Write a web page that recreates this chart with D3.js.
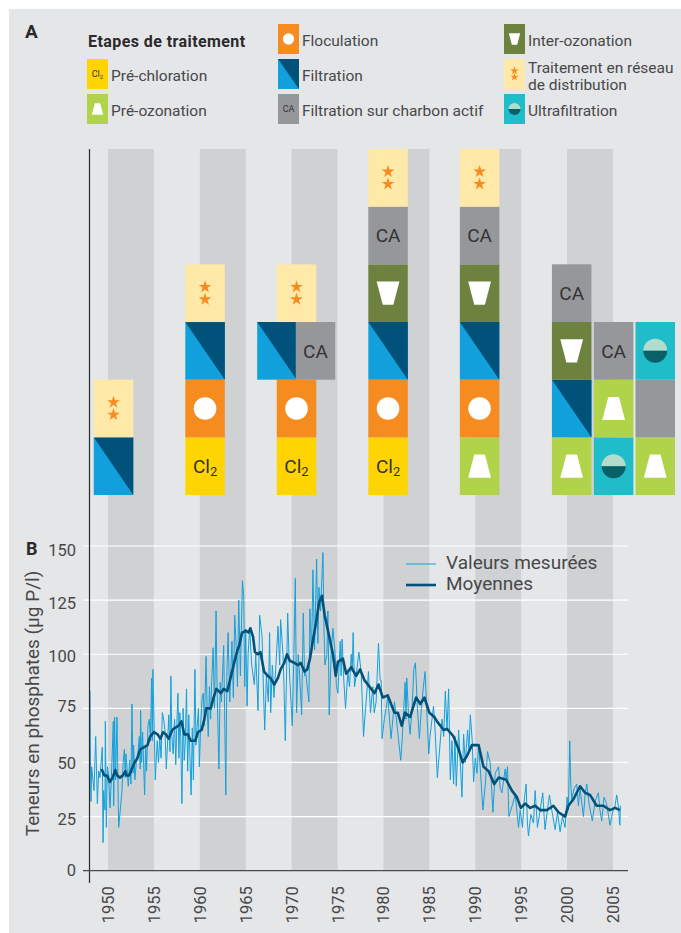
<!DOCTYPE html>
<html>
<head>
<meta charset="utf-8">
<script src="https://cdn.jsdelivr.net/npm/d3@7"></script>
<style>
	html, body { margin: 0; padding: 0; background: #fff; }
	svg { display: block; }
	text { font-family: Roboto, "Liberation Sans", sans-serif; fill: #47484a; }
	.legend-label { font-size: 15.5px; }
	.axis text { font-size: 16.5px; }
	.axis .domain { display: none; }
	.axis line { display: none; }
</style>
</head>
<body>
<script>
var bandStarts = [1950, 1960, 1970, 1980, 1990, 2000];
var yTicks = [0, 25, 50, 75, 100, 125, 150];
var xTicks = [1950, 1955, 1960, 1965, 1970, 1975, 1980, 1985, 1990, 1995, 2000, 2005];

// treatment steps: [column centre (year), level from the bottom, kind]
var steps = [
	[1950.6, 0, 'filtration'], [1950.6, 1, 'reseau'],
	[1960.57, 0, 'chlore'], [1960.57, 1, 'floculation'], [1960.57, 2, 'filtration'], [1960.57, 3, 'reseau'],
	[1970.53, 0, 'chlore'], [1970.53, 1, 'floculation'], [1968.4, 2, 'filtration'], [1972.6, 2, 'charbon'], [1970.53, 3, 'reseau'],
	[1980.5, 0, 'chlore'], [1980.5, 1, 'floculation'], [1980.5, 2, 'filtration'], [1980.5, 3, 'inter'], [1980.5, 4, 'charbon'], [1980.5, 5, 'reseau'],
	[1990.47, 0, 'preoz'], [1990.47, 1, 'floculation'], [1990.47, 2, 'filtration'], [1990.47, 3, 'inter'], [1990.47, 4, 'charbon'], [1990.47, 5, 'reseau'],
	[2000.5, 0, 'preoz'], [2000.5, 1, 'filtration'], [2000.5, 2, 'inter'], [2000.5, 3, 'charbon'],
	[2005.07, 0, 'ultra'], [2005.07, 1, 'preoz'], [2005.07, 2, 'charbon'],
	[2009.6, 0, 'preoz'], [2009.6, 1, 'vide'], [2009.6, 2, 'ultra']
];

var legendTitle = 'Etapes de traitement';
var legendItems = [
	['chlore', ['Pré-chloration']],
	['preoz', ['Pré-ozonation']],
	['floculation', ['Floculation']],
	['filtration', ['Filtration']],
	['charbon', ['Filtration sur charbon actif']],
	['inter', ['Inter-ozonation']],
	['reseau', ['Traitement en réseau', 'de distribution']],
	['ultra', ['Ultrafiltration']]
];

var measured = [
	[1948.04,83],[1948.08,53],[1948.15,32],[1948.22,48],[1948.48,37],[1948.66,62],[1948.84,31],[1948.99,46],
	[1949.13,43],[1949.38,57],[1949.46,13],[1949.53,37],[1949.67,28],[1949.71,69],[1949.82,20],[1949.93,48],
	[1950.07,44],[1950.22,29],[1950.36,42],[1950.58,69],[1950.62,30],[1950.72,71],[1950.83,42],[1950.98,71],
	[1951.16,20],[1951.38,30],[1951.52,37],[1951.65,50],[1951.78,56],[1951.88,43],[1951.96,54],
	[1952.21,39],[1952.36,51],[1952.5,40],[1952.61,77],[1952.72,45],[1952.79,58],[1952.93,42],
	[1953.08,50],[1953.25,54],[1953.41,62],[1953.51,47],[1953.55,74],[1953.66,50],[1953.77,64],[1953.99,35],
	[1954.1,58],[1954.2,46],[1954.35,67],[1954.5,70],[1954.62,60],[1954.75,89],[1954.82,60],[1954.89,93],
	[1955.03,65],[1955.15,42],[1955.36,60],[1955.5,50],[1955.64,62],[1955.78,52],[1955.92,73],
	[1956.06,70],[1956.2,65],[1956.35,47],[1956.5,60],[1956.62,72],[1956.75,55],[1956.85,90],[1956.95,62],
	[1957.1,54],[1957.25,70],[1957.38,49],[1957.5,68],[1957.62,82],[1957.72,52],[1957.82,73],[1957.92,62],
	[1958.05,31],[1958.18,75],[1958.3,51],[1958.42,60],[1958.55,84],[1958.68,46],[1958.8,72],[1958.9,56],
	[1959.05,35],[1959.18,66],[1959.3,42],[1959.47,93],[1959.58,58],[1959.7,66],[1959.85,75],[1959.95,48],
	[1960.1,68],[1960.25,80],[1960.38,82],[1960.5,67],[1960.68,99],[1960.8,75],[1960.92,62],
	[1961.05,85],[1961.18,70],[1961.3,88],[1961.45,103],[1961.6,75],[1961.77,120],[1961.88,84],
	[1962.08,47],[1962.22,87],[1962.35,78],[1962.6,104],[1962.7,74],[1962.83,35],[1962.95,92],
	[1963.08,110],[1963.26,78],[1963.5,106],[1963.65,80],[1963.8,118],[1964,100],[1964.1,85],[1964.24,125],[1964.42,90],[1964.64,134],[1964.78,127],[1964.89,85],
	[1965,111],[1965.15,76],[1965.26,100],[1965.43,112],[1965.65,95],[1965.94,86],[1966.09,100],[1966.34,74],[1966.52,118],[1966.78,108],[1966.92,85],
	[1967.07,65],[1967.25,90],[1967.46,78],[1967.6,110],[1967.72,73],[1967.9,95],[1968.08,80],[1968.33,98],[1968.51,113],[1968.7,95],[1968.8,116],
	[1969.06,100],[1969.17,85],[1969.31,60],[1969.57,119],[1969.78,90],[1970.07,67],[1970.22,95],[1970.4,135],[1970.54,73],[1970.72,100],[1970.87,90],
	[1971.09,72],[1971.27,119],[1971.41,90],[1971.52,92],[1971.7,85],[1971.88,78],[1971.99,121],[1972.17,100],[1972.32,139],[1972.5,102],[1972.72,144],[1972.86,105],[1972.97,131],
	[1973.15,120],[1973.41,147],[1973.51,115],[1973.62,95],[1973.84,100],[1973.95,120],[1974.09,72],[1974.3,100],[1974.49,112],[1974.74,100],[1974.88,85],
	[1975.04,82],[1975.29,106],[1975.39,90],[1975.5,107],[1975.68,88],[1975.87,75],[1976.12,92],[1976.3,85],[1976.49,100],[1976.6,92],[1976.7,110],[1976.85,85],
	[1977.03,90],[1977.32,101],[1977.57,92],[1977.68,80],[1977.83,62],[1978.05,75],[1978.37,92],[1978.59,73],[1978.84,85],[1978.99,73],[1979.2,78],
	[1979.46,105],[1979.64,88],[1979.75,88],[1979.85,61],[1980.1,70],[1980.47,80],[1980.83,61],[1981.2,78],[1981.56,64],[1981.88,51],[1982.03,60],
	[1982.36,87],[1982.46,70],[1982.54,89],[1982.75,70],[1982.9,63],[1983.12,75],[1983.3,93],[1983.48,96],[1983.7,75],[1983.91,61],[1984.13,75],[1984.35,85],[1984.53,92],[1984.71,75],[1984.93,54],
	[1985.07,62],[1985.45,76],[1985.62,65],[1985.87,43],[1986.38,70],[1986.56,62],[1986.74,83],[1986.92,65],[1987.1,84],[1987.28,42],[1987.46,60],[1987.64,40],[1987.78,62],[1987.93,39],
	[1988.19,65],[1988.37,50],[1988.55,34],[1988.73,63],[1988.91,50],[1989.17,65],[1989.31,55],[1989.46,72],[1989.67,60],[1989.82,41],[1990,52],[1990.18,45],[1990.36,58],[1990.58,45],[1990.83,28],
	[1991.09,40],[1991.34,55],[1991.49,52],[1991.63,50],[1991.92,27],[1992.17,45],[1992.54,48],[1992.72,38],[1992.9,36],[1993.26,47],[1993.37,42],[1993.51,48],[1993.66,25],[1993.8,27],
	[1994.02,30],[1994.35,35],[1994.71,20],[1994.89,28],[1995.14,20],[1995.32,32],[1995.54,40],[1995.68,22],[1995.8,16],[1996.05,26],[1996.34,22],[1996.52,37],[1996.77,20],
	[1997.07,28],[1997.35,36],[1997.5,25],[1997.6,19],[1997.86,28],[1998.08,35],[1998.33,28],[1998.7,19],[1998.95,27],[1999.24,18],[1999.49,25],[1999.78,20],
	[2000,34],[2000.14,28],[2000.29,60],[2000.4,40],[2000.51,33],[2000.76,38],[2001.05,40],[2001.23,30],[2001.41,38],[2001.78,25],[2001.96,35],[2002.14,40],[2002.43,30],[2002.75,23],
	[2003.04,32],[2003.4,36],[2003.58,28],[2003.77,23],[2004.02,34],[2004.3,31],[2004.49,26],[2004.67,21],[2004.96,27],[2005.22,30],[2005.4,35],[2005.58,30],[2005.75,21],[2005.8,30]
];

var moyennes = [
	[1949.3,47],[1949.6,44],[1949.9,44],[1950.2,41],[1950.5,43],[1950.8,46.5],[1951,44],[1951.3,43],[1951.6,44],[1951.9,46],
	[1952,44],[1952.3,44],[1952.6,47],[1952.9,50],[1953.2,52],[1953.5,56],[1953.9,57],[1954.3,58],[1954.6,62],[1955,64],
	[1955.4,63],[1955.7,61],[1956,64],[1956.3,63],[1956.6,61],[1957,65],[1957.3,66],[1957.7,67],[1958,69],[1958.3,63],
	[1958.7,63],[1959,60],[1959.5,60],[1959.8,64],[1960.2,65],[1960.5,70],[1960.7,75],[1961.2,75],[1961.5,80],[1961.8,84],
	[1962.3,82],[1962.6,84],[1963,83],[1963.4,90],[1963.8,97],[1964.1,102],[1964.3,104],[1964.6,110],[1964.9,110.5],[1965,111],
	[1965.3,110],[1965.5,112],[1965.8,108],[1966,101],[1966.3,100],[1966.6,101],[1967,92],[1967.4,90],[1967.7,89],[1968.1,86],
	[1968.5,89],[1968.8,93],[1969.2,96],[1969.5,100],[1969.8,97],[1970.3,96],[1970.7,95],[1971,96],[1971.4,92],[1971.7,93],
	[1972,98],[1972.3,106],[1972.6,113],[1973,124],[1973.3,127],[1973.6,118],[1974,110],[1974.5,100],[1974.8,90],[1975.04,96.5],
	[1975.58,98],[1975.94,91],[1976.49,94],[1977.03,90],[1977.46,93],[1977.93,88],[1978.66,84],[1979.02,82],[1979.46,86],[1979.93,80],
	[1980.47,81],[1980.83,77],[1981.2,73],[1981.56,73],[1981.99,67],[1982.36,73],[1982.9,71],[1983.55,80],[1984.02,77],[1984.46,80],
	[1985,73],[1985.54,71],[1985.83,69],[1986.56,65],[1986.92,65.5],[1987.64,62],[1988.19,56],[1988.62,50],[1989.09,53],[1989.64,58],
	[1990.36,58],[1990.9,48],[1991.45,46],[1992.07,40],[1992.54,43],[1993.37,42],[1993.99,37],[1994.53,34],[1994.96,29],[1995.43,31],
	[1995.98,29],[1996.52,30],[1997.07,28],[1997.79,28],[1998.51,30],[1999.06,27],[1999.78,25],[2000.14,30],[2000.69,33],[2001.41,39],
	[2001.96,36],[2002.5,35],[2003.22,30],[2003.95,30],[2004.67,28],[2005.22,29],[2005.76,28]
];

var colors = {
	chlore: '#ffd400', floculation: '#f68b1f', charbon: '#96979b', vide: '#96979b', inter: '#6e8240',
	preoz: '#b1d34a', reseau: '#fee9a9', ultra: '#1fbcc9',
	filtreBleu: '#12a0dc', filtreFonce: '#00527a'
};

var width = 681, height = 933;
var cellW = 39.5, cellH = 57.7;

var svg = d3.select('body').append('svg').attr('width', width).attr('height', height);

var x = d3.scaleLinear().domain([1950, 2005]).range([108, 613]);
var y = d3.scaleLinear().domain([0, 150]).range([870.7, 546]);
var levelY = d3.scaleLinear().domain([0, 6]).range([495, 149]);

svg.append('rect').attr('x', 9).attr('y', 9).attr('width', width - 9).attr('height', height - 9).attr('fill', '#e5e6e8');

// grey bands behind both panels
svg.selectAll('.band').data(bandStarts).enter().append('rect').attr('class', 'band')
	.attr('x', function (d) { return x(d); })
	.attr('y', 149)
	.attr('width', function (d) { return x(d + 5) - x(d); })
	.attr('height', 870.7 - 149)
	.attr('fill', '#d0d1d3');

// draws one treatment cell, w x h, icons scaled by k
function drawCell(g, kind, w, h, k, fontSize) {
	g.append('rect').attr('width', w).attr('height', h)
		.attr('fill', kind === 'filtration' ? colors.filtreBleu : colors[kind]);
	var cx = w / 2, cy = h / 2;
	if (kind === 'filtration') {
		g.append('path').attr('d', 'M0 0L' + w + ' 0L' + w + ' ' + h + 'Z').attr('fill', colors.filtreFonce);
	} else if (kind === 'floculation') {
		g.append('circle').attr('cx', cx).attr('cy', cy).attr('r', 11.3 * k).attr('fill', '#fff');
	} else if (kind === 'preoz' || kind === 'inter') {
		var s = kind === 'preoz' ? 1 : -1;
		var hw = 11.4 * k, tw = 5.3 * k, hh = 11.6 * k;
		g.append('path')
			.attr('d', 'M' + (cx - hw) + ' ' + (cy + s * hh) + 'L' + (cx + hw) + ' ' + (cy + s * hh) +
				'L' + (cx + tw) + ' ' + (cy - s * hh) + 'L' + (cx - tw) + ' ' + (cy - s * hh) + 'Z')
			.attr('fill', '#fff');
	} else if (kind === 'ultra') {
		var r = 12 * k;
		g.append('path').attr('d', 'M' + (cx - r) + ' ' + cy + 'A' + r + ' ' + r + ' 0 0 1 ' + (cx + r) + ' ' + cy + 'Z').attr('fill', '#b2dccb');
		g.append('path').attr('d', 'M' + (cx - r) + ' ' + cy + 'A' + r + ' ' + r + ' 0 0 0 ' + (cx + r) + ' ' + cy + 'Z').attr('fill', '#0a6068');
	} else if (kind === 'reseau') {
		var star = d3.symbol().type(d3.symbolStar).size(50 * Math.max(k, 0.65) * Math.max(k, 0.65));
		[-6.2, 6.2].forEach(function (dy) {
			g.append('path').attr('d', star()).attr('fill', colors.floculation)
				.attr('transform', 'translate(' + cx + ',' + (cy + dy * k) + ')');
		});
	} else if (kind === 'charbon') {
		g.append('text').attr('x', cx).attr('y', cy + fontSize * 0.36).attr('text-anchor', 'middle')
			.style('font-size', fontSize + 'px').style('fill', '#333').text('CA');
	} else if (kind === 'chlore') {
		var t = g.append('text').attr('x', cx).attr('y', cy + fontSize * 0.36).attr('text-anchor', 'middle')
			.style('font-size', fontSize + 'px').style('fill', '#333');
		t.append('tspan').text('Cl');
		t.append('tspan').attr('dy', fontSize * 0.18).style('font-size', (fontSize * 0.68) + 'px').text('2');
	}
}

// panel A: stacks
svg.selectAll('.step').data(steps).enter().append('g').attr('class', 'step')
	.attr('transform', function (d) {
		return 'translate(' + (x(d[0]) - cellW / 2) + ',' + levelY(d[1] + 1) + ')';
	})
	.each(function (d) { drawCell(d3.select(this), d[2], cellW, cellH, 1, 19); });

// panel A: legend
var legendCols = [87, 278, 504], legendRows = [59, 94, 24];
var legendSlots = [[0, 0], [0, 1], [1, 2], [1, 0], [1, 1], [2, 2], [2, 0], [2, 1]];
var legend = svg.append('g').attr('class', 'legend');

legend.append('text').attr('x', 88).attr('y', 47).style('font-size', '16px').style('letter-spacing', '0.42px')
	.style('font-weight', 700).style('fill', '#2a2a2c').text(legendTitle);

legendItems.forEach(function (item, i) {
	var lx = legendCols[legendSlots[i][0]], ly = legendRows[legendSlots[i][1]];
	var g = legend.append('g').attr('transform', 'translate(' + lx + ',' + ly + ')');
	drawCell(g, item[0], 21, 30, 0.5, 9);
	var lines = item[1];
	lines.forEach(function (line, j) {
		var baseline = lines.length === 1 ? 22 : 13.5 + j * 17;
		legend.append('text').attr('class', 'legend-label')
			.attr('x', lx + 24).attr('y', ly + baseline).text(line);
	});
});

// panel B: gridlines
svg.selectAll('.grid').data(yTicks.slice(1)).enter().append('line').attr('class', 'grid')
	.attr('x1', 83).attr('x2', 628)
	.attr('y1', function (d) { return y(d); }).attr('y2', function (d) { return y(d); })
	.attr('stroke', '#fff').attr('stroke-width', 1.2);

var line = d3.line().x(function (d) { return x(d[0]); }).y(function (d) { return y(d[1]); });

svg.append('path').datum(measured).attr('d', line).attr('fill', 'none')
	.attr('stroke', colors.filtreBleu).attr('stroke-width', 1).attr('stroke-linejoin', 'round');
svg.append('path').datum(moyennes).attr('d', line).attr('fill', 'none')
	.attr('stroke', colors.filtreFonce).attr('stroke-width', 2.6).attr('stroke-linejoin', 'round');

// axes lines
svg.append('line').attr('x1', 89.5).attr('x2', 89.5).attr('y1', 149).attr('y2', 883).attr('stroke', '#2a2a2c').attr('stroke-width', 1.2);
svg.append('line').attr('x1', 83).attr('x2', 628).attr('y1', y(0)).attr('y2', y(0)).attr('stroke', '#4a4a4c').attr('stroke-width', 1.2);

// tick labels in the reference sit a little off their gridlines
var yLabelOffset = { 0: -1, 25: 2, 50: 0, 75: -3, 100: 1, 125: 3, 150: 4 };
var yAxis = d3.axisLeft(y).tickValues(yTicks).tickSize(0).tickPadding(0);
svg.append('g').attr('class', 'axis').attr('transform', 'translate(76,0)').call(yAxis)
	.selectAll('text')
	.attr('dy', '0.355em')
	.attr('y', function (d) { return yLabelOffset[d]; });

var xAxis = d3.axisBottom(x).tickValues(xTicks).tickFormat(d3.format('d')).tickSize(0);
svg.append('g').attr('class', 'axis').attr('transform', 'translate(0,' + y(0) + ')').call(xAxis)
	.selectAll('text')
	.attr('text-anchor', 'end').attr('dy', null).attr('y', 0)
	.attr('transform', 'translate(5.5,15.5) rotate(-90)');

// panel letters and titles
svg.append('text').attr('x', 25).attr('y', 38).style('font-size', '19px').style('font-weight', 700).style('fill', '#2a2a2c').text('A');
svg.append('text').attr('x', 26).attr('y', 555).style('font-size', '18px').style('font-weight', 700).style('fill', '#2a2a2c').text('B');
svg.append('text').attr('transform', 'translate(39,703.5) rotate(-90)').attr('text-anchor', 'middle')
	.style('font-size', '19px').text('Teneurs en phosphates (µg P/l)');

// panel B: legend
var seriesLegend = [
	['Valeurs mesurées', colors.filtreBleu, 1, 564],
	['Moyennes', colors.filtreFonce, 2.6, 585]
];
seriesLegend.forEach(function (d) {
	svg.append('line').attr('x1', 406).attr('x2', 436).attr('y1', d[3]).attr('y2', d[3])
		.attr('stroke', d[1]).attr('stroke-width', d[2]);
	svg.append('text').attr('x', 446).attr('y', d[3] + 4.5).style('font-size', '19px').text(d[0]);
});
</script>
</body>
</html>
